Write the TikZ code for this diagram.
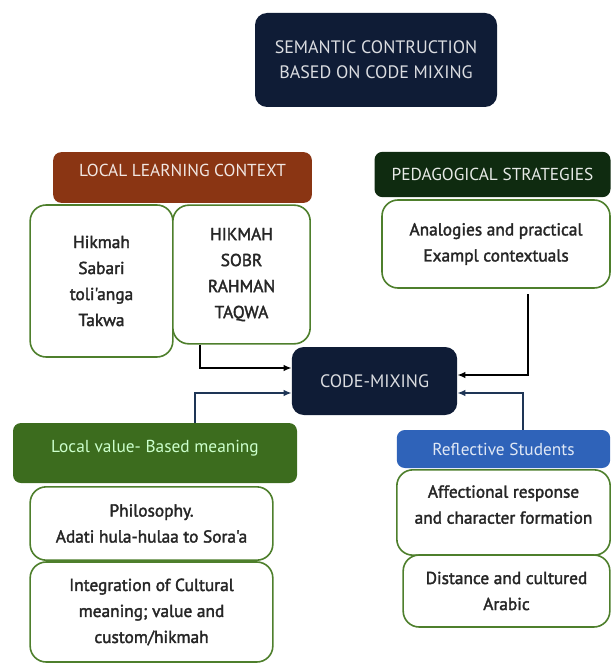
\documentclass[tikz,border=0pt]{standalone}
\usepackage{fontspec}
\setmainfont{PT Sans}
\newfontfamily\medfont{PT Sans}[FakeBold=2]
\usetikzlibrary{arrows.meta}

\definecolor{navy}{HTML}{0F1C36}
\definecolor{rust}{HTML}{8A3513}
\definecolor{pine}{HTML}{0F2B10}
\definecolor{leaf}{HTML}{3C6C1E}
\definecolor{sky}{HTML}{2F63B9}
\definecolor{rim}{HTML}{4E7F2C}
\definecolor{wire}{HTML}{1E3556}

\begin{document}
\begin{tikzpicture}[x=0.75pt,y=-0.75pt,
	hdr/.style={rounded corners=6pt,align=center,inner sep=2pt,
		font=\fontsize{13}{16}\selectfont},
	dark/.style={fill=navy,rounded corners=9pt,align=center,text=navy!15,
		font=\fontsize{13.5}{19}\selectfont},
	card/.style={draw=rim,line width=1.2pt,fill=white,rounded corners=12pt,
		align=center,text=black!85,inner sep=2pt,
		font=\medfont\fontsize{13}{19.5}\selectfont},
	feed/.style={line width=1.1pt,-{Latex[length=6pt,width=5pt]}}]
	
	\useasboundingbox (0,0) rectangle (611,663);
	
	%----------------------
	% Titel
	%----------------------
	\node[dark,minimum width=181.5pt,minimum height=70.5pt] (title) at (376,60)
	{SEMANTIC CONTRUCTION\\BASED ON CODE MIXING};
	
	%----------------------
	% Local learning context
	%----------------------
	\node[card,minimum width=107pt,minimum height=114pt] (llist) at (101.5,281)
	{Hikmah\\Sabari\\toli'anga\\Takwa};
	\node[card,minimum width=103pt,minimum height=104pt] (rlist) at (241.5,274.5)
	{HIKMAH\\SOBR\\RAHMAN\\TAQWA};
	\node[hdr,fill=rust,text=rust!12,minimum width=194pt,minimum height=38pt,
	text depth=11pt] (lctx) at (182.5,177.5) {LOCAL LEARNING CONTEXT};
	
	%----------------------
	% Pedagogical strategies
	%----------------------
	\node[card,minimum width=171pt,minimum height=66pt] (pedbox) at (496,244)
	{Analogies and practical\\Exampl contextuals};
	\node[hdr,fill=pine,text=white!90!pine,minimum width=177pt,minimum height=34pt]
	(ped) at (492.5,174.5) {PEDAGOGICAL STRATEGIES};
	
	%----------------------
	% Code-mixing
	%----------------------
	\node[dark,minimum width=124pt,minimum height=51pt] (mix) at (374.5,381)
	{CODE-MIXING};
	
	%----------------------
	% Local value
	%----------------------
	\node[hdr,fill=leaf,text=green!20!white,minimum width=213pt,minimum height=45pt,
	text depth=10pt] (lval) at (155,453) {Local value- Based meaning};
	\node[card,minimum width=182pt,minimum height=55pt] (phil) at (151.5,523.5)
	{Philosophy.\\Adati hula-hulaa to Sora'a};
	\node[card,minimum width=182pt,minimum height=75pt] (integ) at (151.5,612)
	{Integration of Cultural\\meaning; value and\\custom/hikmah};
	
	%----------------------
	% Reflective students
	%----------------------
	\node[hdr,fill=sky,text=sky!15,minimum width=160pt,minimum height=28.5pt]
	(refl) at (503.5,449) {Reflective Students};
	\node[card,minimum width=160pt,minimum height=64pt,text depth=12pt] (aff)
	at (503.5,512.5) {Affectional response\\and character formation};
	\node[card,minimum width=155pt,minimum height=54pt] (dist) at (506.5,591)
	{Distance and cultured\\Arabic};
	
	%----------------------
	% Pfeile
	%----------------------
	\draw[feed] ([xshift=-31pt]rlist.south) |- ([yshift=9.75pt]mix.west);
	\draw[feed] ([xshift=24pt,yshift=-4pt]pedbox.south) |- ([yshift=4.5pt]mix.east);
	\draw[feed,wire] ([xshift=30pt]lval.north) |- ([yshift=-9pt]mix.west);
	\draw[feed,wire] ([xshift=14.6pt]refl.north) |- ([yshift=-9pt]mix.east);
	
\end{tikzpicture}
\end{document}
